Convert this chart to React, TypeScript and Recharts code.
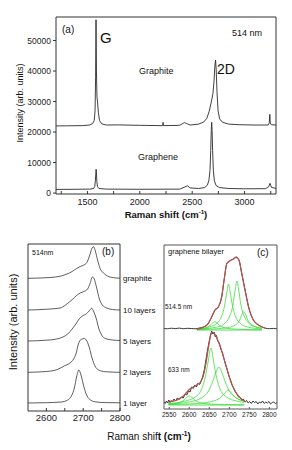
import React from 'react';
import { LineChart, Line, XAxis, YAxis } from 'recharts';

const FONT = "'Liberation Sans', Arial, Helvetica, sans-serif";

// (a) full spectra at 514 nm: [Raman shift, counts]
const graphiteFull: [number, number][] = [
  [1200, 22000], [1300, 22050], [1450, 22100], [1520, 22300], [1550, 22800], [1565, 23800],
  [1573, 27000], [1578, 38000], [1582, 56800], [1586, 40000], [1591, 31500], [1597, 29800],
  [1604, 26500], [1615, 23800], [1635, 22700], [1680, 22300], [1800, 22350], [2000, 22200],
  [2218, 22100], [2222, 23200], [2226, 22100], [2380, 22200], [2405, 22700], [2425, 23100],
  [2445, 22800], [2480, 22300], [2560, 22600], [2610, 23300], [2640, 24500], [2662, 26800],
  [2678, 29200], [2688, 30800], [2698, 32600], [2708, 36500], [2716, 41500], [2723, 43600],
  [2729, 40500], [2737, 33000], [2747, 27000], [2762, 24300], [2790, 23200], [2850, 22600],
  [2950, 22400], [3100, 22300], [3225, 22300], [3236, 23000], [3241, 25800], [3245, 23000],
  [3255, 22400], [3300, 22300],
];
const grapheneFull: [number, number][] = [
  [1200, 1200], [1400, 1250], [1520, 1300], [1560, 1500], [1570, 2200], [1576, 4000],
  [1580, 6500], [1583, 7800], [1586, 6600], [1590, 3800], [1596, 2100], [1610, 1500],
  [1680, 1300], [2000, 1250], [2380, 1300], [2430, 2000], [2455, 2400], [2480, 1700],
  [2560, 1500], [2620, 1800], [2645, 2600], [2660, 4200], [2670, 7500], [2677, 14000],
  [2682, 20500], [2686, 23200], [2690, 20500], [2695, 14000], [2702, 7500], [2712, 4000],
  [2728, 2500], [2760, 1800], [2850, 1500], [3000, 1400], [3200, 1450], [3230, 2100],
  [3243, 3200], [3256, 1900], [3300, 1500],
];
const aXTicks = [1250, 1500, 1750, 2000, 2250, 2500, 2750, 3000, 3250];
const aYTicks = [0, 10000, 20000, 30000, 40000, 50000];
const aYMinor = [0, 5000, 10000, 15000, 20000, 25000, 30000, 35000, 40000, 45000, 50000, 55000];

// (b) 2D band vs number of layers (offset, arb. units)
const bGraphite: [number, number][] = [
  [2550, 132.7], [2610, 133.5], [2640, 135], [2656, 137], [2670, 139.5], [2682, 142.5],
  [2692, 144.5], [2702, 146], [2710, 148.5], [2718, 156], [2724, 163], [2728, 164.3],
  [2733, 160], [2739, 151], [2746, 142.5], [2755, 138], [2766, 135], [2782, 133.3], [2800, 132.8],
];
const bTen: [number, number][] = [
  [2550, 101], [2610, 102], [2637, 103], [2652, 106], [2664, 109.5], [2672, 112], [2682, 115.5],
  [2692, 118], [2702, 119.5], [2712, 122], [2719, 128], [2725, 134], [2730, 132], [2736, 124],
  [2744, 112], [2752, 106], [2764, 103], [2780, 101.5], [2800, 101],
];
const bFive: [number, number][] = [
  [2550, 70], [2600, 70.8], [2628, 72], [2645, 74], [2658, 77], [2670, 82], [2680, 87],
  [2690, 92.5], [2700, 95.5], [2708, 97], [2716, 100], [2723, 102.7], [2729, 99], [2735, 93],
  [2742, 83], [2750, 76], [2760, 72.5], [2780, 71], [2800, 70.5],
];
const bTwo: [number, number][] = [
  [2550, 38.7], [2600, 39.5], [2630, 41.5], [2648, 45], [2664, 48], [2674, 52], [2681, 58],
  [2687, 67], [2694, 71.5], [2703, 72.5], [2710, 70], [2717, 63], [2724, 53], [2732, 45],
  [2742, 41], [2760, 39.3], [2800, 38.7],
];
const bOne: [number, number][] = [
  [2550, 8], [2600, 8.3], [2640, 9], [2658, 11], [2668, 15], [2676, 23], [2682, 34], [2688, 41],
  [2694, 36], [2700, 27], [2708, 17], [2718, 11.5], [2732, 9.2], [2760, 8.4], [2800, 8.2],
];
const bLabels = ['graphite', '10 layers', '5 layers', '2 layers', '1 layer'];
const bLabelY = [132.7, 101, 70, 38.7, 7.7];

// (c) bilayer 2D, data + fit + Lorentzian components
const c514Data: [number, number][] = [
  [2537, 80.5], [2545, 80.2], [2555, 80.8], [2565, 80.4], [2575, 80.9], [2585, 80.3],
  [2595, 80.7], [2605, 80.5], [2615, 80.2], [2625, 81], [2635, 82], [2645, 84.5], [2655, 91],
  [2664, 98.5], [2673, 102.5], [2681, 112], [2687, 129], [2694, 145.5], [2702, 148.5],
  [2710, 150], [2717, 152], [2724, 149], [2731, 135.5], [2740, 118], [2748, 102], [2760, 89],
  [2777, 83], [2789, 81], [2800, 80.3], [2810, 80.6], [2819, 80.2],
];
const c514Fit: [number, number][] = [
  [2619, 79.7], [2635, 81.7], [2648, 85.7], [2656, 92.3], [2664, 99], [2673, 102.3],
  [2681, 112.3], [2687, 129], [2694, 145.7], [2702, 148.3], [2710, 149.7], [2717, 151.7],
  [2724, 149], [2731, 135.7], [2739, 119], [2748, 102.3], [2760, 89], [2777, 83], [2789, 80.7],
];
const c514P1: [number, number][] = [
  [2619, 79.5], [2640, 81], [2652, 83.5], [2660, 86.5], [2664, 87.3], [2668, 86.5],
  [2676, 83.5], [2690, 81], [2720, 79.8], [2781, 79.2],
];
const c514P2: [number, number][] = [
  [2619, 80], [2650, 82], [2670, 86], [2680, 92], [2688, 103], [2694, 117], [2698, 125],
  [2702, 117], [2708, 103], [2716, 92], [2726, 86], [2746, 82], [2781, 80],
];
const c514P3: [number, number][] = [
  [2619, 79.8], [2670, 82], [2690, 86], [2700, 92], [2709, 104], [2715, 120], [2719, 128],
  [2723, 120], [2729, 104], [2738, 92], [2748, 86], [2765, 82], [2781, 80.5],
];
const c514P4: [number, number][] = [
  [2619, 79.3], [2690, 81], [2715, 84], [2726, 89], [2732, 95], [2736, 97.3], [2740, 95],
  [2746, 89], [2757, 84], [2781, 81],
];
const c514Base: [number, number][] = [[2619, 79], [2781, 79]];

const c633Data: [number, number][] = [
  [2537, 7.5], [2540, 5.5], [2543, 8], [2546, 6], [2549, 9], [2552, 6.5], [2555, 8.5], [2558, 7],
  [2562, 10], [2566, 8], [2570, 11], [2575, 9.5], [2580, 12], [2585, 11], [2590, 15], [2594, 14],
  [2598, 18], [2602, 17], [2606, 22], [2610, 20.5], [2614, 24], [2618, 22], [2622, 26],
  [2626, 24.5], [2630, 28], [2634, 33], [2638, 40], [2642, 50], [2646, 60], [2650, 68],
  [2653, 74], [2656, 78], [2659, 75], [2662, 77], [2665, 72], [2668, 73.5], [2671, 68],
  [2675, 66], [2679, 60], [2683, 56], [2687, 50], [2691, 44], [2695, 39], [2699, 33],
  [2703, 29], [2707, 24], [2711, 21], [2715, 17], [2719, 15], [2723, 12], [2727, 11.5],
  [2731, 9], [2735, 10], [2739, 7], [2743, 8.5], [2747, 6], [2751, 7.5], [2755, 5.5],
  [2759, 8], [2763, 6.5], [2767, 7.5], [2771, 5], [2775, 7], [2779, 6], [2783, 8], [2787, 5.5],
  [2791, 7], [2795, 6], [2799, 7.5], [2803, 5], [2807, 6.5], [2811, 7], [2815, 5.5], [2819, 6.5],
];
const c633Fit: [number, number][] = [
  [2546, 7], [2556, 7.5], [2570, 9], [2582, 12], [2592, 16], [2600, 19.5], [2610, 22],
  [2620, 24.5], [2628, 27], [2635, 33], [2641, 44], [2647, 59], [2652, 71], [2656, 76.5],
  [2660, 76.5], [2665, 74], [2671, 69], [2679, 60.5], [2689, 47], [2697, 36], [2705, 26],
  [2713, 19], [2722, 13.5], [2732, 9.5], [2742, 7],
];
const c633P1: [number, number][] = [
  [2548, 4.8], [2570, 6], [2585, 8.5], [2593, 11.5], [2600, 13], [2607, 11.5], [2615, 8.5],
  [2630, 6], [2660, 4.8], [2737, 4.2],
];
const c633P2: [number, number][] = [
  [2548, 5.5], [2590, 8], [2615, 12], [2630, 19], [2640, 32], [2647, 47], [2654, 61],
  [2661, 47], [2668, 32], [2678, 19], [2693, 12], [2718, 8], [2737, 6.5],
];
const c633P3: [number, number][] = [
  [2548, 5], [2600, 7], [2630, 11], [2648, 18], [2658, 27], [2666, 36], [2674, 42],
  [2682, 36], [2690, 27], [2700, 18], [2718, 11], [2737, 8],
];
const c633P4: [number, number][] = [
  [2548, 4.5], [2620, 5.5], [2660, 8], [2677, 11], [2688, 15.5], [2697, 19], [2706, 15.5],
  [2717, 11], [2737, 8],
];
const c633Base: [number, number][] = [[2548, 4], [2737, 4]];
const cXTicks = [2550, 2600, 2650, 2700, 2750, 2800];
const cYTicks = [15, 35, 55, 75, 95, 115, 135, 155];

const pts = (list: [number, number][]) => list.map(([x, y]) => ({ x, y }));

const tickFont = (size: number) => ({ fontSize: size, fill: '#222', fontFamily: FONT });

function trace(key: string, list: [number, number][], color: string, width: number, curve: 'linear' | 'monotone') {
  return (
    <Line
      key={key}
      data={pts(list)}
      dataKey="y"
      type={curve}
      stroke={color}
      strokeWidth={width}
      dot={false}
      activeDot={false}
      isAnimationActive={false}
    />
  );
}

function PanelA() {
  return (
    <LineChart width={292} height={230} margin={{ top: 17, right: 16, bottom: 16, left: 0 }}>
      <XAxis
        type="number"
        dataKey="x"
        domain={[1200, 3300]}
        allowDataOverflow
        ticks={aXTicks}
        interval={0}
        tickFormatter={(v) => (v % 500 === 0 ? String(v) : '')}
        tickSize={-3}
        tickMargin={8}
        height={20}
        stroke="#333"
        tick={tickFont(9)}
      />
      <XAxis xAxisId="top" orientation="top" type="number" dataKey="x" domain={[1200, 3300]}
        allowDataOverflow ticks={aXTicks} interval={0} mirror tick={false} tickSize={3} height={1} stroke="#333" />
      <YAxis
        type="number"
        dataKey="y"
        domain={[-300, 57700]}
        allowDataOverflow
        ticks={aYTicks}
        interval={0}
        width={56}
        tickSize={3}
        tickMargin={2}
        stroke="#333"
        tick={tickFont(8.5)}
      />
      <YAxis yAxisId="right" orientation="right" type="number" domain={[-300, 57700]} allowDataOverflow
        ticks={aYMinor} interval={0} mirror tick={false} tickSize={3} width={1} stroke="#333" />
      {trace('graphite', graphiteFull, '#2a2a2a', 0.9, 'linear')}
      {trace('graphene', grapheneFull, '#2a2a2a', 0.9, 'linear')}
    </LineChart>
  );
}

function PanelB() {
  return (
    <LineChart width={150} height={200} margin={{ top: 14, right: 30, bottom: 0, left: 0 }}>
      <XAxis
        type="number"
        dataKey="x"
        domain={[2550, 2800]}
        allowDataOverflow
        ticks={[2600, 2650, 2700, 2750, 2800]}
        interval={0}
        tickFormatter={(v) => (v % 100 === 0 ? String(v) : '')}
        tickSize={-3}
        tickMargin={6}
        height={19}
        stroke="#333"
        tick={tickFont(9.5)}
      />
      <XAxis xAxisId="top" orientation="top" type="number" domain={[2550, 2800]} mirror
        tick={false} tickLine={false} height={1} stroke="#333" />
      <YAxis type="number" dataKey="y" domain={[0, 167]} allowDataOverflow width={28}
        tick={false} tickLine={false} stroke="#333" />
      <YAxis yAxisId="right" orientation="right" type="number" domain={[0, 167]} mirror
        tick={false} tickLine={false} width={1} stroke="#333" />
      {trace('g', bGraphite, '#333', 0.8, 'monotone')}
      {trace('10', bTen, '#333', 0.8, 'monotone')}
      {trace('5', bFive, '#333', 0.8, 'monotone')}
      {trace('2', bTwo, '#333', 0.8, 'monotone')}
      {trace('1', bOne, '#333', 0.8, 'monotone')}
    </LineChart>
  );
}

const GREEN = '#3fdc3f';
const RED = '#b8504c';

function PanelC() {
  return (
    <LineChart width={142} height={200} margin={{ top: 15, right: 15, bottom: 0, left: 0 }}>
      <XAxis
        type="number"
        dataKey="x"
        domain={[2537, 2819]}
        allowDataOverflow
        ticks={cXTicks}
        interval={0}
        tickSize={-2}
        tickMargin={5}
        height={21}
        stroke="#555"
        tick={tickFont(6.5)}
      />
      <XAxis xAxisId="top" orientation="top" type="number" domain={[2537, 2819]} allowDataOverflow
        ticks={cXTicks} interval={0} mirror tick={false} tickSize={2} height={1} stroke="#555" />
      <YAxis type="number" dataKey="y" domain={[0, 164]} allowDataOverflow ticks={cYTicks} interval={0}
        width={14} tick={false} tickSize={-2} stroke="#555" />
      <YAxis yAxisId="right" orientation="right" type="number" domain={[0, 164]} allowDataOverflow
        ticks={cYTicks} interval={0} mirror tick={false} tickSize={2} width={1} stroke="#555" />
      {trace('b1', c514Base, GREEN, 0.9, 'linear')}
      {trace('p11', c514P1, GREEN, 0.8, 'monotone')}
      {trace('p12', c514P2, GREEN, 0.8, 'monotone')}
      {trace('p13', c514P3, GREEN, 0.8, 'monotone')}
      {trace('p14', c514P4, GREEN, 0.8, 'monotone')}
      {trace('d1', c514Data, '#222', 0.9, 'monotone')}
      {trace('f1', c514Fit, RED, 1.2, 'monotone')}
      {trace('b2', c633Base, GREEN, 0.9, 'linear')}
      {trace('p21', c633P1, GREEN, 0.8, 'monotone')}
      {trace('p22', c633P2, GREEN, 0.8, 'monotone')}
      {trace('p23', c633P3, GREEN, 0.8, 'monotone')}
      {trace('p24', c633P4, GREEN, 0.8, 'monotone')}
      {trace('d2', c633Data, '#222', 0.9, 'linear')}
      {trace('f2', c633Fit, RED, 1.2, 'monotone')}
    </LineChart>
  );
}

function RamanTitle({ x, y, size, boldFrom }: { x: number; y: number; size: number; boldFrom: number }) {
  const full = 'Raman shift (cm';
  return (
    <text x={x} y={y} fontSize={size} textAnchor="middle" fill="#111" fontFamily={FONT}>
      <tspan fontWeight="normal">{full.slice(0, boldFrom)}</tspan>
      <tspan fontWeight="bold">{full.slice(boldFrom)}</tspan>
      <tspan fontWeight="bold" fontSize={size * 0.65} dy={-size * 0.4}>-1</tspan>
      <tspan fontWeight="bold" dy={size * 0.4}>)</tspan>
    </text>
  );
}

function Annotations() {
  // panel (b): label y positions follow its 0..167 scale over 244..411 px
  const bPix = (v: number) => 411 - v;
  return (
    <svg width={292} height={450} style={{ position: 'absolute', left: 0, top: 0, pointerEvents: 'none' }}>
      <g fontFamily={FONT} fill="#111">
        <text x={62} y={32.5} fontSize={10}>(a)</text>
        <text x={100} y={43} fontSize={15}>G</text>
        <text x={232} y={36} fontSize={9}>514 nm</text>
        <text x={139} y={74} fontSize={9}>Graphite</text>
        <text x={217} y={73.5} fontSize={14}>2D</text>
        <text x={138} y={160} fontSize={9}>Graphene</text>
        <text transform="translate(23,103) rotate(-90)" textAnchor="middle" fontSize={9}>Intensity (arb. units)</text>

        <text x={32} y={255} fontSize={7}>514nm</text>
        <text x={102} y={254.5} fontSize={10}>(b)</text>
        {bLabels.map((t, i) => (
          <text key={t} x={123} y={bPix(bLabelY[i]) + 2.8} fontSize={8}>{t}</text>
        ))}
        <text transform="translate(17,322) rotate(-90)" textAnchor="middle" fontSize={11}>Intensity (arb. units)</text>

        <text x={168} y={253.5} fontSize={7.5}>graphene bilayer</text>
        <text x={257} y={255.5} fontSize={10}>(c)</text>
        <text x={165} y={309} fontSize={6.5}>514.5 nm</text>
        <text x={168} y={372} fontSize={6.5}>633 nm</text>
      </g>
      <RamanTitle x={166} y={218} size={9.5} boldFrom={0} />
      <RamanTitle x={149} y={440} size={10} boldFrom={10} />
    </svg>
  );
}

export default function App() {
  return (
    <div style={{ position: 'absolute', left: 0, top: 0, width: 292, height: 450, background: '#fff', overflow: 'hidden' }}>
      <div style={{ position: 'absolute', left: 0, top: 0 }}>
        <PanelA />
      </div>
      <div style={{ position: 'absolute', left: 0, top: 230 }}>
        <PanelB />
      </div>
      <div style={{ position: 'absolute', left: 150, top: 230 }}>
        <PanelC />
      </div>
      <Annotations />
    </div>
  );
}
